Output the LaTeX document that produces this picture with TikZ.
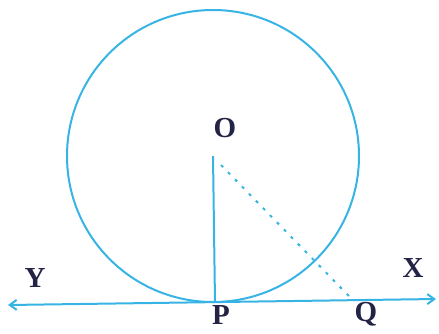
\documentclass[tikz,border=0pt]{standalone}
\usepackage{fontspec}
\setmainfont{Liberation Serif}
\usetikzlibrary{arrows.meta}
\definecolor{penblue}{RGB}{55,180,228}
\definecolor{inkblue}{RGB}{35,35,70}
\begin{document}
\begin{tikzpicture}[
    x=1pt, y=-1pt,
    pen/.style={draw=penblue, line width=2pt},
    arrow/.style={<->, >={Straight Barb[length=7pt,width=10pt]}},
    lbl/.style={text=inkblue, font=\fontsize{29}{31}\selectfont\bfseries, inner sep=0pt},
    every node/.style={font=\normalsize}
]
\useasboundingbox (0,0) rectangle (439,333);
% Points
\coordinate (O) at (213,156);
\coordinate (P) at (215,302.1);
\coordinate (Q) at (353,300.2);
\coordinate (Y) at (8,305);
\coordinate (X) at (436,299);
% Circle
\draw[pen] (O) circle (146);
% Tangent line
\draw[pen, arrow] (Y) -- (X);
% Radius and OQ
\draw[pen] (O) -- (P);
\draw[pen, dash pattern=on 3pt off 7pt] ([xshift=8pt,yshift=-9pt]O) -- (Q);
% Labels
\node[lbl] (labO) at (225,128) {O};
\node[lbl] (labP) at (221,315) {P};
\node[lbl] (labQ) at (366,314) {Q};
\node[lbl] (labX) at (413,268) {X};
\node[lbl] (labY) at (35,278) {Y};
\end{tikzpicture}
\end{document}
